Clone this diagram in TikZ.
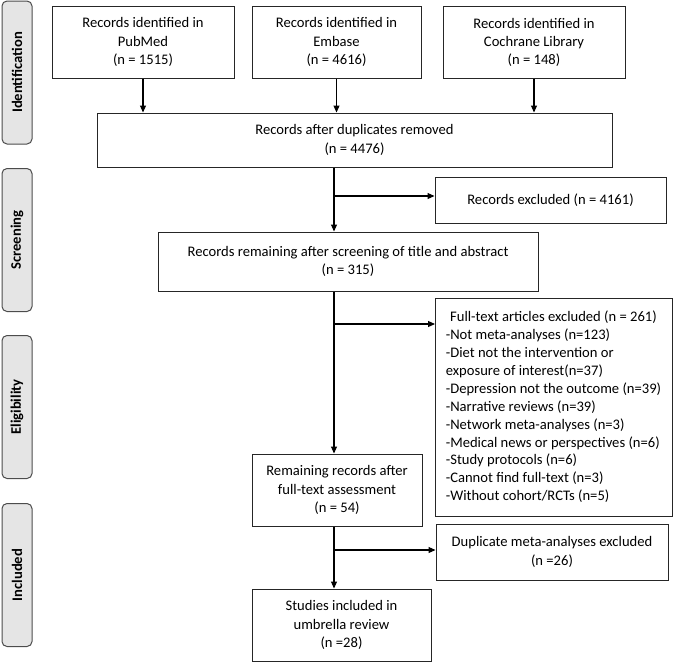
\documentclass[tikz,border=0pt]{standalone}
\usepackage{fontspec}
\setmainfont{Carlito}
\usetikzlibrary{arrows.meta}
\begin{document}
\begin{tikzpicture}[x=1pt,y=-1pt,
  box/.style={draw=black!85, line width=1pt, fill=white, align=center, inner sep=2pt,
    font=\fontsize{14.6}{18.2}\selectfont},
  stage/.style={draw=black!70, line width=1pt, fill=black!10, rounded corners=5pt,
    minimum width=143, minimum height=30, rotate=90,
    font=\fontsize{14.6}{17}\selectfont\bfseries},
  arr/.style={line width=1.1pt, -{Triangle[length=7pt,width=6pt]}}]
\useasboundingbox (0,0) rectangle (674,662);
% stage labels
\node[stage] (sid) at (17,72.5) {Identification};
\node[stage] (ssc) at (17,240) {Screening};
\node[stage] (sel) at (17,407) {Eligibility};
\node[stage] (sin) at (17,575) {Included};
% boxes
\node[box, minimum width=182, minimum height=72] (pub) at (143,42) {Records identified in\\PubMed\\(n = 1515)};
\node[box, minimum width=169, minimum height=72] (emb) at (336.5,42) {Records identified in\\Embase\\(n = 4616)};
\node[box, minimum width=182, minimum height=72] (coc) at (534,42.5) {Records identified in\\Cochrane Library\\(n = 148)};
\node[box, minimum width=515, minimum height=54] (dup) at (354.5,140) {Records after duplicates removed\\(n = 4476)};
\node[box, minimum width=231, minimum height=46] (ex1) at (550.5,200) {Records excluded (n = 4161)};
\node[box, minimum width=380, minimum height=59] (rem) at (348,261.5) {Records remaining after screening of title and abstract\\(n = 315)};
\node[box, minimum width=237, minimum height=218, anchor=north west, inner sep=0pt] (ft) at (435,298) {};
\node[anchor=north, font=\fontsize{14.6}{17.9}\selectfont, inner sep=0pt] (ftt) at (553.5,309) {\begin{tabular}{@{}l@{}}
\multicolumn{1}{@{}c@{}}{Full-text articles excluded (n = 261)}\\
-Not meta-analyses (n=123)\\
-Diet not the intervention or\\
exposure of interest(n=37)\\
-Depression not the outcome (n=39)\\
-Narrative reviews (n=39)\\
-Network meta-analyses (n=3)\\
-Medical news or perspectives (n=6)\\
-Study protocols (n=6)\\
-Cannot find full-text (n=3)\\
-Without cohort/RCTs (n=5)
\end{tabular}};
\node[box, minimum width=170, minimum height=72] (ft2) at (337,490) {Remaining records after\\full-text assessment\\(n = 54)};
\node[box, minimum width=232, minimum height=56] (dma) at (552,552) {Duplicate meta-analyses excluded\\(n =26)};
\node[box, minimum width=179, minimum height=72] (inc) at (341.5,625) {Studies included in\\umbrella review\\(n =28)};
% spine
\coordinate (sp) at (334,0);
\coordinate (b1) at (334,196);
\coordinate (b2) at (334,324);
\coordinate (b3) at (334,550);
% connectors
\draw[arr] (pub.south) -- (pub.south |- dup.north);
\draw[arr] (emb.south) -- (emb.south |- dup.north);
\draw[arr] (coc.south) -- (coc.south |- dup.north);
\draw[arr] (dup.south -| sp) -- (rem.north -| sp);
\draw[arr] (b1) -- (b1 -| ex1.west);
\draw[arr] (rem.south -| sp) -- (ft2.north -| sp);
\draw[arr] (b2) -- (b2 -| ft.west);
\draw[arr] (ft2.south -| sp) -- (inc.north -| sp);
\draw[arr] (b3) -- (b3 -| dma.west);
\end{tikzpicture}
\end{document}
